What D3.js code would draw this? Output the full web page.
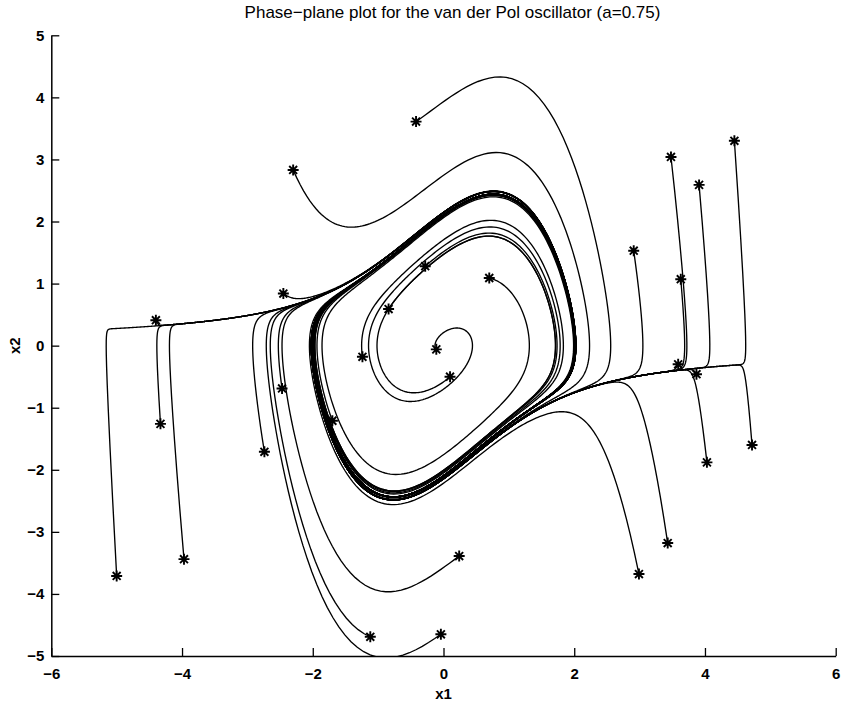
<!DOCTYPE html>
<html>
<head>
<meta charset="utf-8">
<script src="https://cdn.jsdelivr.net/npm/d3@7"></script>
<style>
  html, body { margin: 0; padding: 0; background: #fff; }
  svg { display: block; font-family: "Liberation Sans", Arial, Helvetica, sans-serif; }
</style>
</head>
<body>
<svg id="chart" width="843" height="703"></svg>
<script>
// van der Pol oscillator: x1' = x2, x2' = -x1 + a(1 - x1^2) x2
const a = 0.75;
const tEnd = 20;

// Initial conditions (marked with '*')
const x1Start = [-0.42, -2.30, 3.48, 4.45, 3.91, 2.91, 3.63, -0.28, 0.70, -0.84,
                 -2.45, -4.40, -1.24, -0.11, 0.10, -2.47, 3.59, 3.87, -4.33, -1.70,
                 -2.74, 4.03, 4.72, -5.00, -3.97, 0.24, 2.99, 3.43, -1.12, -0.04];
const x2Start = [3.61, 2.83, 3.04, 3.30, 2.59, 1.53, 1.07, 1.28, 1.09, 0.59,
                 0.84, 0.41, -0.18, -0.06, -0.50, -0.69, -0.30, -0.46, -1.26, -1.21,
                 -1.71, -1.88, -1.60, -3.71, -3.44, -3.39, -3.68, -3.18, -4.69, -4.65];

const xTicks = [-6, -4, -2, 0, 2, 4, 6];
const yTicks = [-5, -4, -3, -2, -1, 0, 1, 2, 3, 4, 5];

(function () {
  const svg = d3.select("#chart");
  const pLeft = 51.3, pRight = 835.7, pTop = 35.3, pBottom = 656;

  const x = d3.scaleLinear().domain([-6, 6]).range([pLeft, pRight]);
  const y = d3.scaleLinear().domain([-5, 5]).range([pBottom, pTop]);

  function deriv(s) {
    return [s[1], -s[0] + a * (1 - s[0] * s[0]) * s[1]];
  }

  // Fourth-order Runge-Kutta integration of one trajectory
  function trajectory(p0) {
    const h = 0.005, steps = Math.round(tEnd / h);
    let s = p0.slice();
    const pts = [s.slice()];
    for (let i = 0; i < steps; i++) {
      const k1 = deriv(s);
      const k2 = deriv([s[0] + h / 2 * k1[0], s[1] + h / 2 * k1[1]]);
      const k3 = deriv([s[0] + h / 2 * k2[0], s[1] + h / 2 * k2[1]]);
      const k4 = deriv([s[0] + h * k3[0], s[1] + h * k3[1]]);
      s = [s[0] + h / 6 * (k1[0] + 2 * k2[0] + 2 * k3[0] + k4[0]),
           s[1] + h / 6 * (k1[1] + 2 * k2[1] + 2 * k3[1] + k4[1])];
      if (i % 4 === 3) pts.push(s.slice());
    }
    return pts;
  }

  svg.append("defs").append("clipPath").attr("id", "plotArea")
    .append("rect")
    .attr("x", pLeft).attr("y", pTop)
    .attr("width", pRight - pLeft).attr("height", pBottom - pTop);

  const line = d3.line().x(d => x(d[0])).y(d => y(d[1]));

  const starts = x1Start.map((v, i) => [v, x2Start[i]]);

  svg.append("g").attr("clip-path", "url(#plotArea)")
    .selectAll("path")
    .data(starts)
    .join("path")
    .attr("d", d => line(trajectory(d)))
    .attr("fill", "none")
    .attr("stroke", "#000")
    .attr("stroke-width", 1.35);

  // '*' markers: plus and times overlaid
  const r = 5.5, rd = r * 0.72;
  svg.append("g")
    .selectAll("path")
    .data(starts)
    .join("path")
    .attr("d", d => {
      const cx = x(d[0]), cy = y(d[1]);
      return `M${cx - r},${cy}L${cx + r},${cy}M${cx},${cy - r}L${cx},${cy + r}` +
             `M${cx - rd},${cy - rd}L${cx + rd},${cy + rd}M${cx - rd},${cy + rd}L${cx + rd},${cy - rd}`;
    })
    .attr("stroke", "#000")
    .attr("stroke-width", 1.9)
    .attr("fill", "none");

  // Axes: left and bottom lines with inward ticks
  const fmt = d => d < 0 ? "\u2212" + Math.abs(d) : d;
  const xAxis = d3.axisBottom(x).tickValues(xTicks).tickSizeInner(-8).tickSizeOuter(0)
    .tickPadding(12).tickFormat(fmt);
  const yAxis = d3.axisLeft(y).tickValues(yTicks).tickSizeInner(-8).tickSizeOuter(0)
    .tickPadding(7).tickFormat(fmt);

  const gx = svg.append("g").attr("transform", `translate(0,${pBottom})`).call(xAxis);
  const gy = svg.append("g").attr("transform", `translate(${pLeft},0)`).call(yAxis);

  [gx, gy].forEach(g => {
    g.select(".domain").attr("stroke", "#000").attr("stroke-width", 1.5);
    g.selectAll(".tick line").attr("stroke", "#000").attr("stroke-width", 1.3);
    g.selectAll(".tick text")
      .attr("fill", "#000")
      .style("font-size", "15px")
      .style("font-weight", "bold")
      .style("font-family", "'Liberation Sans', Arial, sans-serif");
  });

  // Title and axis labels
  svg.append("text")
    .attr("x", (pLeft + pRight) / 2 + 9).attr("y", 18)
    .attr("text-anchor", "middle")
    .style("font-size", "17px")
    .text("Phase\u2212plane plot for the van der Pol oscillator (a=0.75)");

  svg.append("text")
    .attr("x", (pLeft + pRight) / 2).attr("y", 699)
    .attr("text-anchor", "middle")
    .style("font-size", "15px")
    .style("font-weight", "bold")
    .text("x1");

  svg.append("text")
    .attr("transform", `translate(20,${(pTop + pBottom) / 2}) rotate(-90)`)
    .attr("text-anchor", "middle")
    .style("font-size", "15px")
    .style("font-weight", "bold")
    .text("x2");
})();
</script>
</body>
</html>
